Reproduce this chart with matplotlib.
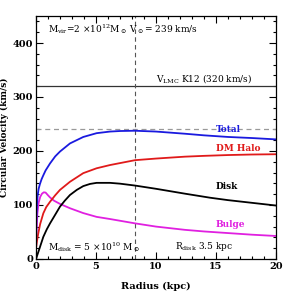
import matplotlib
matplotlib.use('Agg')
import matplotlib.pyplot as plt
from matplotlib.ticker import MultipleLocator

plt.rcParams['font.family'] = ['DejaVu Serif']
plt.rcParams['mathtext.fontset'] = 'dejavuserif'

# curves (radius in kpc, velocity in km/s)
r_total = [0.0, 0.03, 0.08, 0.14, 0.22, 0.33, 0.47, 0.61, 0.8, 1.17, 1.6, 2.0, 2.83, 3.94, 5.05, 6.17, 7.0, 8.25, 10.0, 12.4, 14.0, 16.0, 18.0, 20.0]
v_total = [15, 72, 100, 118, 130, 139, 148, 155, 164, 177, 190, 199, 214, 226, 233, 236, 237, 237.5, 236, 232, 229, 226, 224, 221.5]

r_halo = [0.0, 0.08, 0.19, 0.35, 0.61, 0.85, 1.17, 1.6, 2.0, 2.83, 3.94, 5.05, 6.17, 8.25, 10.0, 12.4, 14.0, 16.0, 18.0, 20.0]
v_halo = [20, 33, 47.5, 65, 84.6, 96, 106, 118, 128, 143, 159, 168, 174, 183, 186, 189.5, 191, 192.5, 193.5, 194]

r_disk = [0.0, 0.3, 0.61, 0.9, 1.17, 1.6, 2.0, 2.4, 2.83, 3.4, 3.94, 4.5, 5.05, 6.17, 7.0, 8.25, 10.0, 12.4, 14.5, 16.0, 18.0, 20.0]
v_disk = [0, 20, 41, 55, 66, 82, 97, 108, 118.5, 128, 135, 139, 141, 141, 139.5, 136, 130, 121, 113.5, 109, 104, 99]

r_bulge = [0.0, 0.05, 0.12, 0.22, 0.35, 0.5, 0.65, 0.8, 1.0, 1.17, 1.5, 2.0, 2.83, 3.94, 5.05, 6.17, 8.25, 10.0, 12.4, 14.0, 16.0, 18.0, 20.0]
v_bulge = [15, 55, 85, 104, 115, 121, 123.5, 123, 118, 114, 108, 102, 94, 85, 78, 74, 66, 60, 54, 51, 48, 45, 42.6]

v_sun = 239
v_lmc = 320
r_sun = 8.25

fig = plt.figure(figsize=(2.91, 2.91), dpi=100)
ax = fig.add_axes([0.1237, 0.110, 0.8248, 0.835])

ax.axhline(v_lmc, color='#333333', lw=0.9)
ax.axhline(v_sun + 1, color='#999999', lw=0.9, ls=(0, (4, 3)))
ax.axvline(r_sun, color='#555555', lw=0.8, ls=(0, (4, 3)))

ax.plot(r_bulge, v_bulge, color='#e020e0', lw=1.3)
ax.plot(r_disk, v_disk, color='black', lw=1.3)
ax.plot(r_halo, v_halo, color='#e01a1a', lw=1.3)
ax.plot(r_total, v_total, color='#1a1adf', lw=1.3)

fs = 6.5
ax.text(1.0, 426, r'M$_{\rm vir}$=2 $\times$10$^{12}$M$_\odot$ V$_\odot$= 239 km/s',
        fontsize=fs, va='center')
ax.text(10.0, 334, r'V$_{\rm LMC}$ K12 (320 km/s)', fontsize=fs, va='center')
ax.text(15.0, 240, 'Total', color='#1a1adf', fontsize=fs, va='center', fontweight='bold')
ax.text(15.0, 205, 'DM Halo', color='#e01a1a', fontsize=fs, va='center', fontweight='bold')
ax.text(15.0, 134, 'Disk', color='black', fontsize=fs, va='center', fontweight='bold')
ax.text(15.0, 64, 'Bulge', color='#e020e0', fontsize=fs, va='center', fontweight='bold')
ax.text(1.0, 23, r'M$_{\rm disk}$ = 5 $\times$10$^{10}$ M$_\odot$', fontsize=fs, va='center')
ax.text(11.6, 23, r'R$_{\rm disk}$ 3.5 kpc', fontsize=fs, va='center')

ax.set_xlim(0, 20)
ax.set_ylim(0, 450)
ax.xaxis.set_major_locator(MultipleLocator(5))
ax.xaxis.set_minor_locator(MultipleLocator(1))
ax.yaxis.set_major_locator(MultipleLocator(100))
ax.yaxis.set_minor_locator(MultipleLocator(20))
ax.tick_params(which='both', direction='in', top=True, right=True, labelsize=fs + 0.5, width=0.8, pad=2)
ax.tick_params(which='major', length=5)
ax.tick_params(which='minor', length=2.5)
for lab in ax.get_xticklabels() + ax.get_yticklabels():
    lab.set_fontweight('bold')
for s in ax.spines.values():
    s.set_linewidth(0.9)

ax.set_xlabel('Radius (kpc)', fontsize=fs + 0.5, fontweight='bold')
ax.set_ylabel('Circular Velocity (km/s)', fontsize=fs, fontweight='bold')
ax.xaxis.set_label_coords(0.5, -0.095)
ax.yaxis.set_label_coords(-0.112, 0.5)

fig.savefig('out.png', dpi=100)
